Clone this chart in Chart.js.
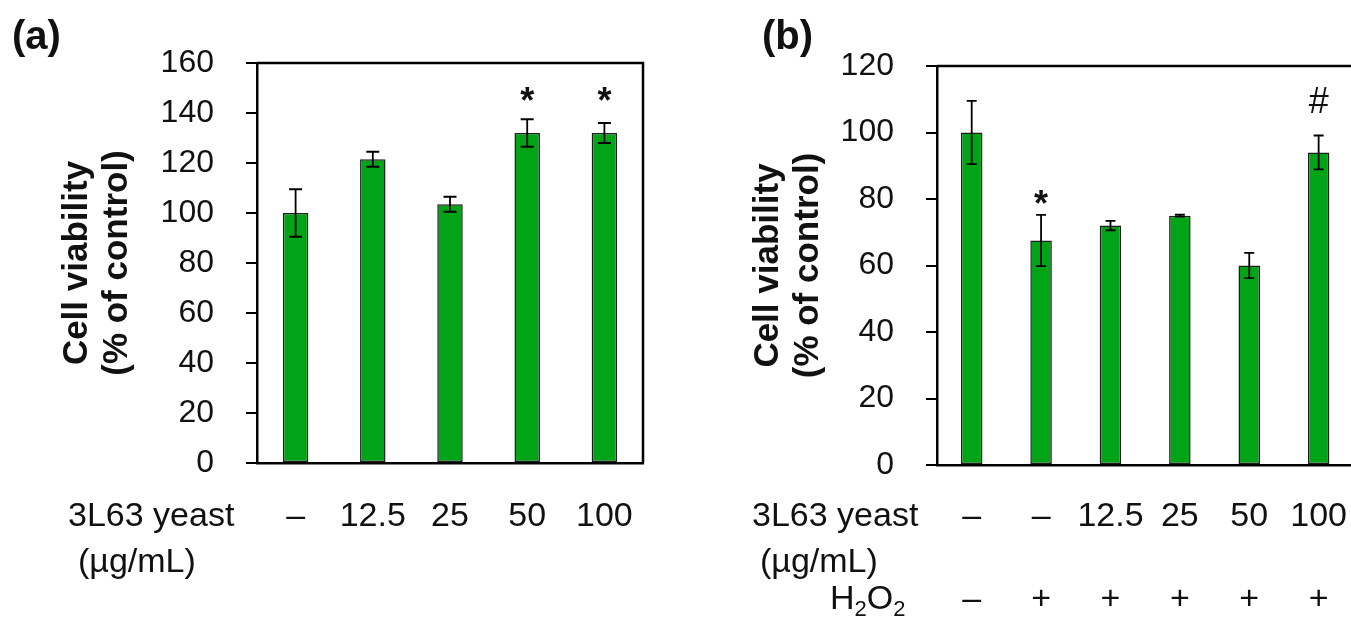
<!DOCTYPE html>
<html>
<head>
<meta charset="utf-8">
<script src="https://cdn.jsdelivr.net/npm/chart.js@4.4.0/dist/chart.umd.min.js"></script>
<style>
  html, body { margin: 0; padding: 0; background: #fff; width: 1351px; height: 621px; overflow: hidden; }
  #chartA { position: absolute; left: 0; top: 0; }
  #chartB { position: absolute; left: 680px; top: 0; }
</style>
</head>
<body>
<canvas id="chartA" width="680" height="621"></canvas>
<canvas id="chartB" width="700" height="621"></canvas>
<script>
// ---- panel (a) ----
const doseLabelsA = ['–', '12.5', '25', '50', '100'];
const viabilityA = [100, 121.5, 103.5, 132, 132];
const errorA = [9.5, 3, 3, 5.5, 4];
const marksA = ['', '', '', '*', '*'];
const markLevelA = [null, null, null, 147.7, 147.7];

// ---- panel (b) ----
const doseLabelsB = ['–', '–', '12.5', '25', '50', '100'];
const h2o2LabelsB = ['–', '+', '+', '+', '+', '+'];
const viabilityB = [100, 67.5, 72, 75, 60, 94];
const errorB = [9.5, 7.7, 1.4, 0.3, 3.8, 5.1];
const marksB = ['', '*', '', '', '', '#'];
const markLevelB = [null, 80.5, null, null, null, 109.8];

const FONT = "'Liberation Sans', Arial, sans-serif";
const GREEN = '#02a417';

// frame, error bars, significance marks and row captions
const decorations = {
  id: 'decorations',
  afterDatasetsDraw(chart, args, opts) {
    const ctx = chart.ctx;
    const area = chart.chartArea;
    const yScale = chart.scales.y;
    const ds = chart.data.datasets[0];
    const meta = chart.getDatasetMeta(0);

    ctx.save();
    ctx.strokeStyle = '#000';
    ctx.lineWidth = 2.5;
    ctx.beginPath();
    ctx.moveTo(area.left, area.top);
    ctx.lineTo(area.right, area.top);
    ctx.lineTo(area.right, area.bottom);
    ctx.stroke();

    // error bars
    ctx.lineWidth = 1.8;
    ds.data.forEach(function (v, i) {
      const e = ds.errors[i];
      const x = meta.data[i].x;
      const top = yScale.getPixelForValue(v + e);
      const bot = yScale.getPixelForValue(v - e);
      const h = opts.cap / 2;
      ctx.beginPath();
      ctx.moveTo(x, top); ctx.lineTo(x, bot);
      ctx.moveTo(x - h, top); ctx.lineTo(x + h, top);
      ctx.moveTo(x - h, bot); ctx.lineTo(x + h, bot);
      ctx.stroke();
    });

    // * and # marks, centred on their level
    ctx.fillStyle = '#111';
    ctx.textAlign = 'center';
    ctx.textBaseline = 'alphabetic';
    ds.marks.forEach(function (m, i) {
      if (!m) return;
      ctx.font = (m === '#' ? '36px ' : 'bold 36px ') + FONT;
      const tm = ctx.measureText(m);
      const yc = yScale.getPixelForValue(ds.markLevels[i]);
      const base = yc + (tm.actualBoundingBoxAscent - tm.actualBoundingBoxDescent) / 2;
      ctx.fillText(m, meta.data[i].x, base);
    });

    // panel letter
    ctx.textAlign = 'left';
    ctx.textBaseline = 'middle';
    ctx.font = 'bold 40px ' + FONT;
    ctx.fillText(opts.letter, opts.letterX, 38);

    // row captions left of the x labels
    ctx.font = '34px ' + FONT;
    ctx.fillText('3L63 yeast', opts.rowX, 517);
    ctx.fillText('(µg/mL)', opts.unitX, 563);
    if (opts.h2o2) {
      ctx.textBaseline = 'alphabetic';
      let x = opts.h2o2X;
      const base = 609;
      [['H', 34, 0], ['2', 22, 7], ['O', 34, 0], ['2', 22, 7]].forEach(function (p) {
        ctx.font = p[1] + 'px ' + FONT;
        ctx.fillText(p[0], x, base + p[2]);
        x += ctx.measureText(p[0]).width;
      });
    }
    ctx.restore();
  }
};

function makeChart(id, cfg) {
  return new Chart(document.getElementById(id), {
    type: 'bar',
    data: {
      labels: cfg.labels,
      datasets: [{
        data: cfg.values,
        errors: cfg.errors,
        marks: cfg.marks,
        markLevels: cfg.markLevels,
        backgroundColor: GREEN,
        borderColor: '#1d1d1d',
        borderWidth: 1.5,
        borderSkipped: false,
        categoryPercentage: 1,
        barPercentage: cfg.barPct
      }]
    },
    options: {
      responsive: false,
      animation: false,
      layout: { padding: { left: 0, top: cfg.top, right: cfg.right, bottom: 0 } },
      plugins: {
        legend: { display: false },
        tooltip: { enabled: false },
        decorations: cfg.deco
      },
      scales: {
        x: {
          grid: { display: false, drawTicks: false },
          border: { display: true, color: '#000', width: 2.5 },
          ticks: {
            color: '#111', padding: cfg.xPad, maxRotation: 0, autoSkip: false,
            font: { family: FONT, size: 34, lineHeight: 1.22 }
          },
          afterFit: function (s) { s.height = cfg.xHeight; }
        },
        y: {
          min: 0, max: cfg.max,
          grid: { drawOnChartArea: false, drawTicks: true, tickLength: 11, color: '#000', lineWidth: 2 },
          border: { display: true, color: '#000', width: 2.5 },
          ticks: { stepSize: 20, color: '#111', padding: 32, font: { family: FONT, size: 32 } },
          title: {
            display: true,
            text: ['Cell viability', '(% of control)'],
            color: '#111',
            padding: { top: cfg.titlePad, bottom: 0 },
            font: { family: FONT, size: 35, weight: 'bold', lineHeight: 1.15 }
          },
          afterFit: function (s) { s.width = 257; }
        }
      }
    },
    plugins: [decorations]
  });
}

makeChart('chartA', {
  labels: doseLabelsA, values: viabilityA, errors: errorA,
  marks: marksA, markLevels: markLevelA,
  barPct: 0.33, max: 160, top: 63, right: 37, xHeight: 158, xPad: 33, titlePad: 57,
  deco: { cap: 13, letter: '(a)', letterX: 12, rowX: 68, unitX: 78, h2o2: false }
});

makeChart('chartB', {
  labels: doseLabelsB.map(function (d, i) { return [d, '', h2o2LabelsB[i]]; }),
  values: viabilityB, errors: errorB,
  marks: marksB, markLevels: markLevelB,
  barPct: 0.31, max: 120, top: 66, right: 24, xHeight: 156, xPad: 31, titlePad: 68,
  deco: { cap: 10, letter: '(b)', letterX: 82, rowX: 72, unitX: 80, h2o2: true, h2o2X: 150 }
});
</script>
</body>
</html>
